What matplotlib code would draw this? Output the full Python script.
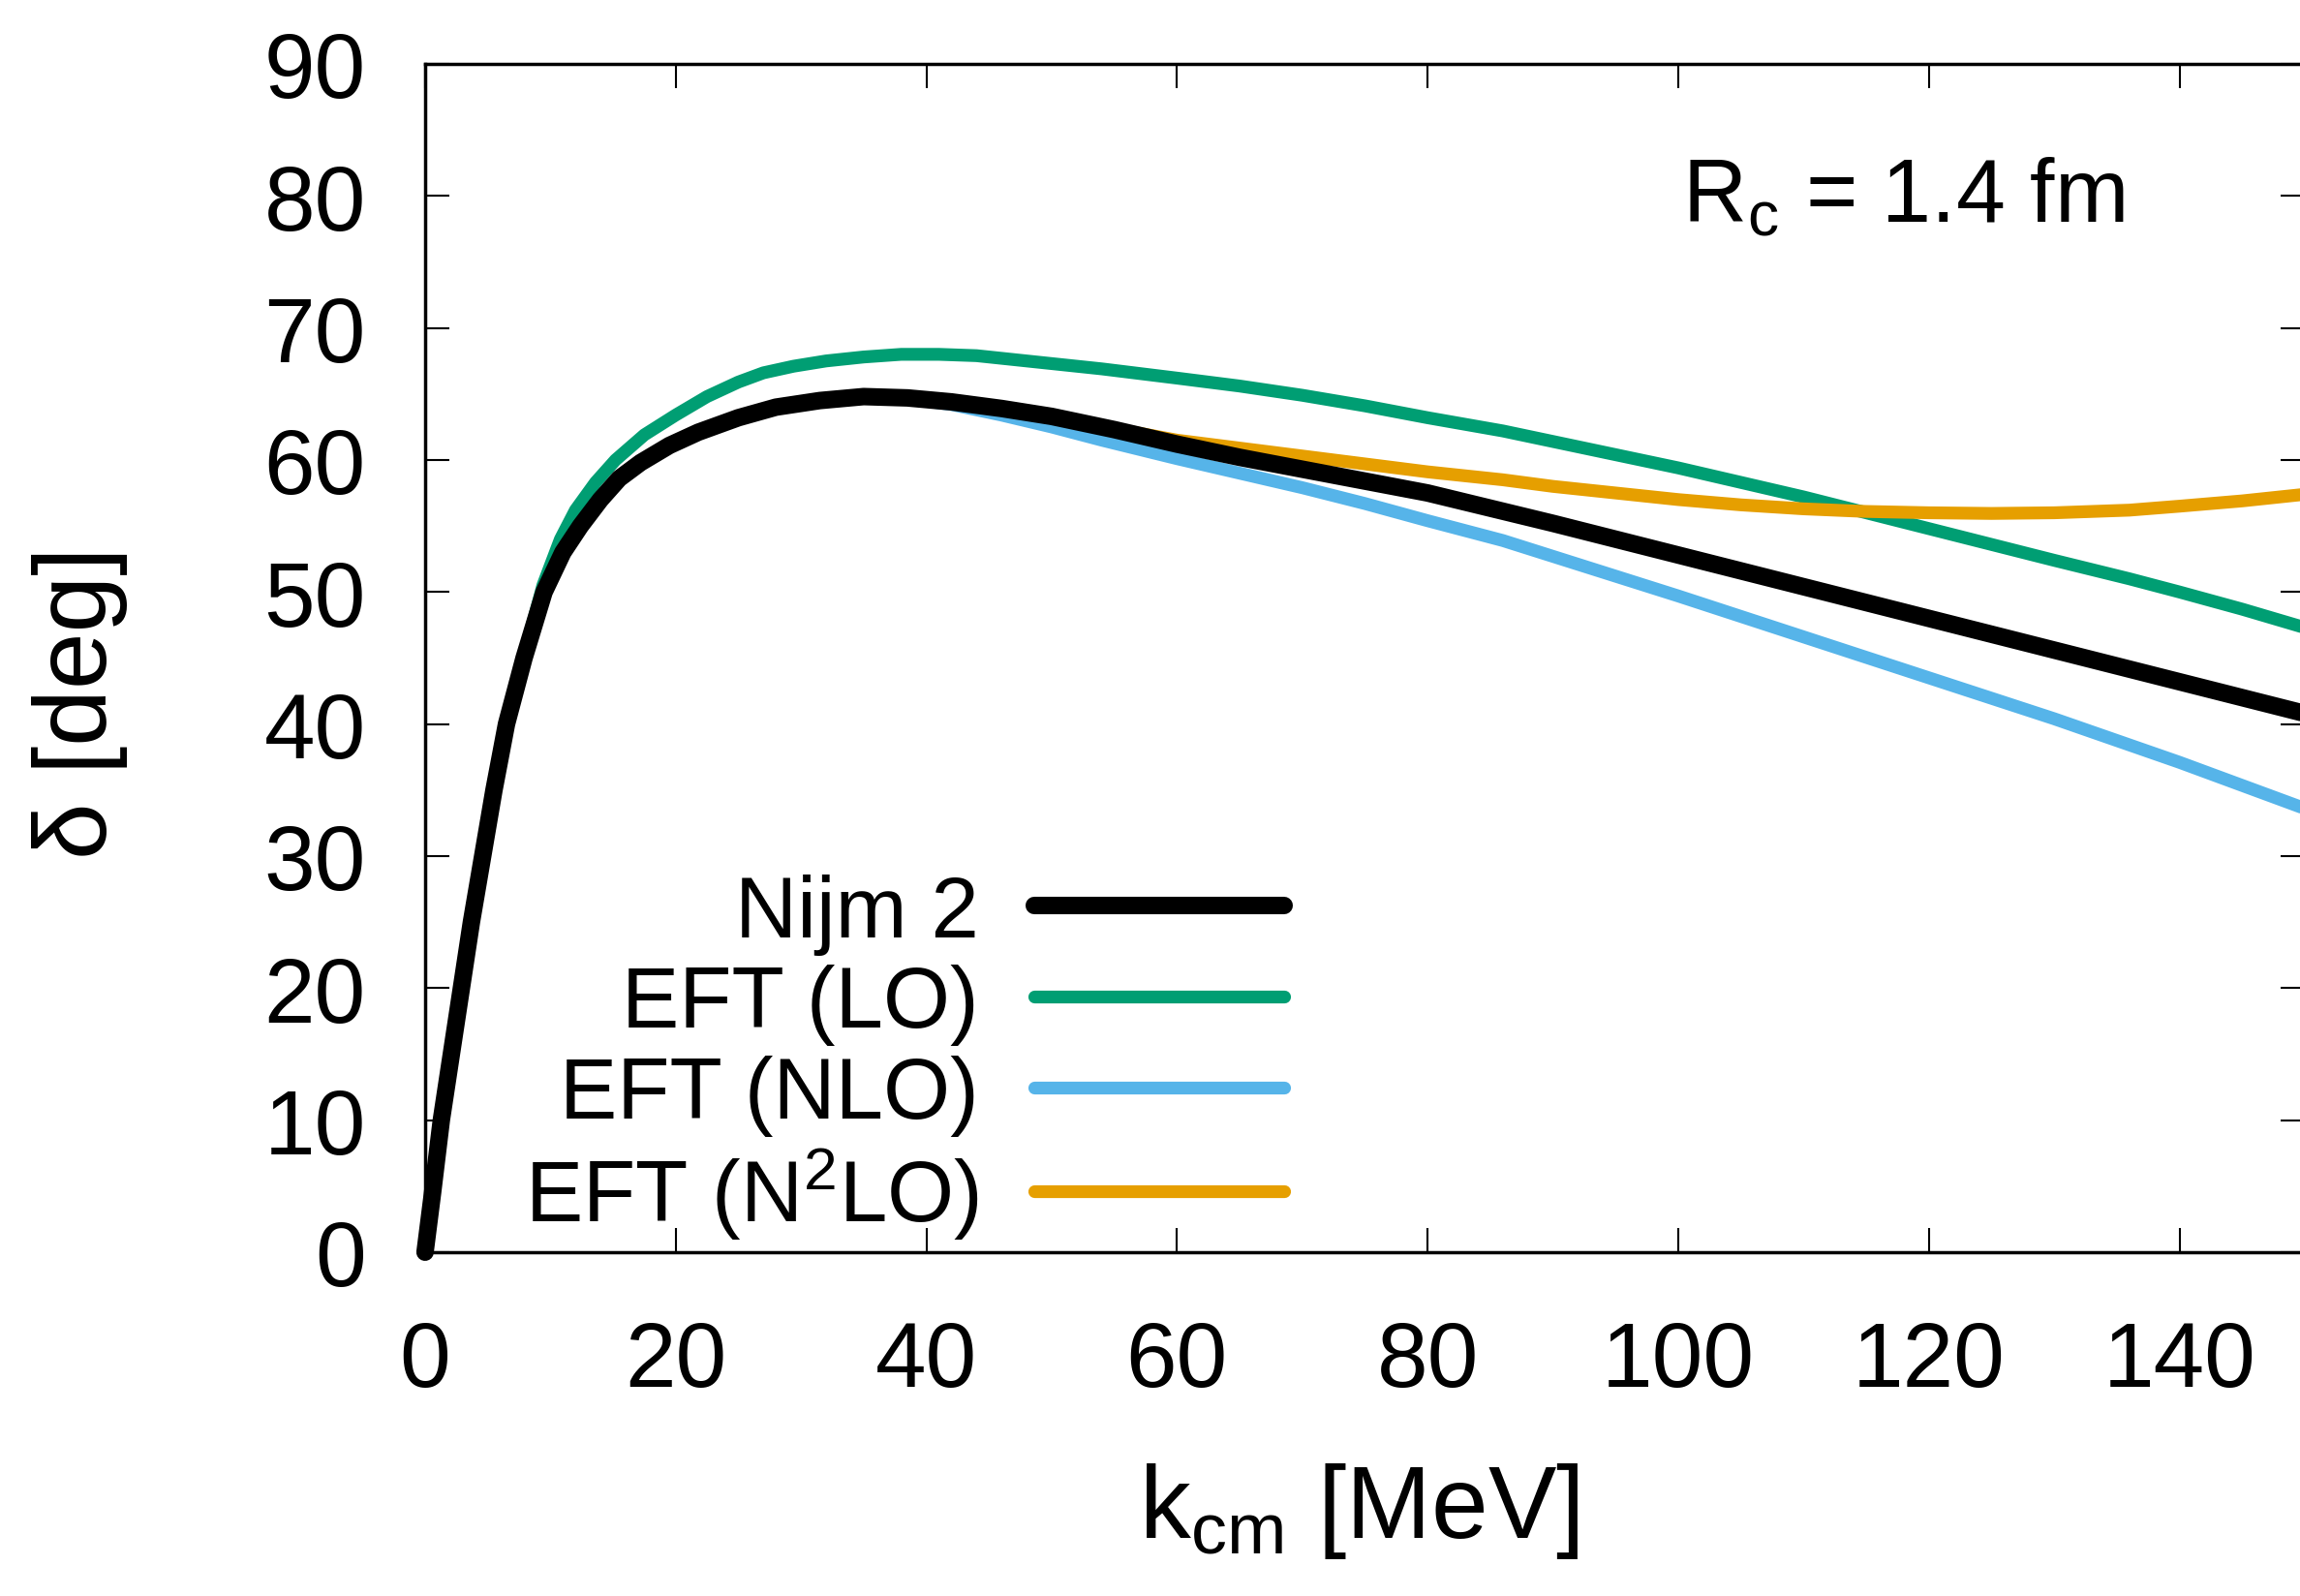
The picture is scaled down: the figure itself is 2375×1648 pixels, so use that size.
import matplotlib
matplotlib.use("Agg")
import matplotlib.pyplot as plt

plt.rcParams['font.family'] = ['Liberation Sans', 'DejaVu Sans']
plt.rcParams['mathtext.fontset'] = 'custom'
plt.rcParams['mathtext.rm'] = 'Liberation Sans'
plt.rcParams['mathtext.it'] = 'Liberation Sans:italic'

# phase shifts (k in MeV, delta in deg)
k_nijm = [0, 0.6, 1.3, 2.1, 2.9, 3.7, 4.6, 5.5, 6.5, 7.9, 9.5, 11, 12.4, 14, 15.5,
          17.2, 19.5, 21.8, 25, 28, 31.5, 35, 38.5, 42, 46, 50, 55, 60, 65, 70,
          75, 80, 90, 100, 110, 120, 130, 140, 150]
d_nijm = [0, 4.5, 10, 15, 20, 25, 30, 35, 40, 45, 50, 53, 55, 57, 58.6,
          59.8, 61.1, 62.1, 63.2, 64.0, 64.5, 64.8, 64.7, 64.4, 63.9, 63.3, 62.3, 61.2, 60.2, 59.3,
          58.4, 57.5, 55.2, 52.8, 50.4, 48.0, 45.6, 43.2, 40.8]

k_lo = [0, 0.6, 1.3, 2.1, 2.9, 3.7, 4.6, 5.5, 6.5, 7.9, 9.4, 10.8, 12, 13.6, 15.2,
        17.5, 20, 22.5, 25, 27, 29.4, 32, 35, 38, 41, 44, 47, 50, 54, 60,
        65, 70, 75, 80, 86, 90, 95, 100, 105, 110, 115, 120, 125, 130, 136,
        140, 145, 150]
d_lo = [0, 4.5, 10, 15, 20, 25, 30, 35, 40, 45.2, 50.5, 54, 56.2, 58.3, 60,
        61.9, 63.4, 64.8, 65.9, 66.6, 67.1, 67.5, 67.8, 68.0, 68.0, 67.9, 67.6, 67.3, 66.9, 66.2,
        65.6, 64.9, 64.1, 63.2, 62.2, 61.4, 60.4, 59.4, 58.3, 57.2, 56.0, 54.8, 53.6, 52.4, 51.0,
        50.0, 48.7, 47.3]

k_nlo = [0, 0.6, 1.3, 2.1, 2.9, 3.7, 4.6, 5.5, 6.5, 7.9, 9.5, 11, 12.4, 14, 15.5,
         17.2, 19.5, 21.8, 25, 28, 31.5, 35, 38, 42, 46, 50, 54, 60, 65, 70,
         75, 80, 86, 90, 95, 100, 110, 120, 130, 140, 150]
d_nlo = [0, 4.5, 10, 15, 20, 25, 30, 35, 40, 45, 50, 53, 55, 57, 58.6,
         59.8, 61.1, 62.1, 63.2, 64.0, 64.5, 64.8, 64.7, 64.2, 63.4, 62.5, 61.5, 60.1, 59.0, 57.9,
         56.7, 55.4, 53.9, 52.7, 51.2, 49.7, 46.6, 43.5, 40.4, 37.1, 33.6]

k_n2lo = [0, 0.6, 1.3, 2.1, 2.9, 3.7, 4.6, 5.5, 6.5, 7.9, 9.5, 11, 12.4, 14, 15.5,
          17.2, 19.5, 21.8, 25, 28, 31.5, 35, 38.5, 42, 46, 50, 53, 56, 60, 65,
          70, 75, 80, 86, 90, 95, 100, 105, 110, 115, 120, 125, 130, 136, 140,
          145, 150]
d_n2lo = [0, 4.5, 10, 15, 20, 25, 30, 35, 40, 45, 50, 53, 55, 57, 58.6,
          59.8, 61.1, 62.1, 63.2, 64.0, 64.5, 64.8, 64.7, 64.4, 63.9, 63.3, 62.7, 62.2, 61.5, 60.9,
          60.3, 59.7, 59.1, 58.5, 58.0, 57.5, 57.0, 56.6, 56.3, 56.1, 56.0, 55.95, 56.0, 56.2, 56.5,
          56.9, 57.4]

labels = ['Nijm 2', 'EFT (LO)', 'EFT (NLO)', r'EFT (N$^\mathrm{2}$LO)']
colors = ['black', '#009e73', '#56b4e9', '#e69f00']

fig = plt.figure(figsize=(23.75, 16.49), dpi=100)
ax = fig.add_axes([0.1848, 0.2153, 0.8173, 0.7441])

ax.plot(k_nijm, d_nijm, color=colors[0], lw=13, label=labels[0], zorder=5,
        solid_capstyle='round', solid_joinstyle='round', clip_on=False)
ax.plot(k_lo, d_lo, color=colors[1], lw=9.5, label=labels[1], zorder=2,
        solid_capstyle='round', solid_joinstyle='round')
ax.plot(k_nlo, d_nlo, color=colors[2], lw=9.5, label=labels[2], zorder=3,
        solid_capstyle='round', solid_joinstyle='round')
ax.plot(k_n2lo, d_n2lo, color=colors[3], lw=9.5, label=labels[3], zorder=4,
        solid_capstyle='round', solid_joinstyle='round')

ax.set_xlim(0, 150)
ax.set_ylim(0, 90)
ax.set_xticks(range(0, 141, 20))
ax.set_yticks(range(0, 91, 10))
ax.tick_params(direction='in', length=18, width=1.5, top=True, right=True,
               labelsize=68)
ax.tick_params(axis='x', pad=50)
ax.tick_params(axis='y', pad=44)
for s in ax.spines.values():
    s.set_linewidth(2.5)

ax.set_xlabel(r'k$_\mathrm{cm}$ [MeV]', fontsize=76)
ax.xaxis.set_label_coords(0.497, -0.175)
ax.set_ylabel('δ [deg]', fontsize=76)
ax.yaxis.set_label_coords(-0.158, 0.463)

ax.text(0.669, 0.867, r'R$_\mathrm{c}$ = 1.4 fm', transform=ax.transAxes,
        fontsize=66, ha='left', va='baseline')

leg = ax.legend(loc='upper right', bbox_to_anchor=(0.457, 0.319), frameon=False,
                markerfirst=False, fontsize=64, handlelength=2.9,
                handletextpad=0.65, labelspacing=0.11, borderpad=0,
                borderaxespad=0)

fig.savefig('out.png', dpi=100)
